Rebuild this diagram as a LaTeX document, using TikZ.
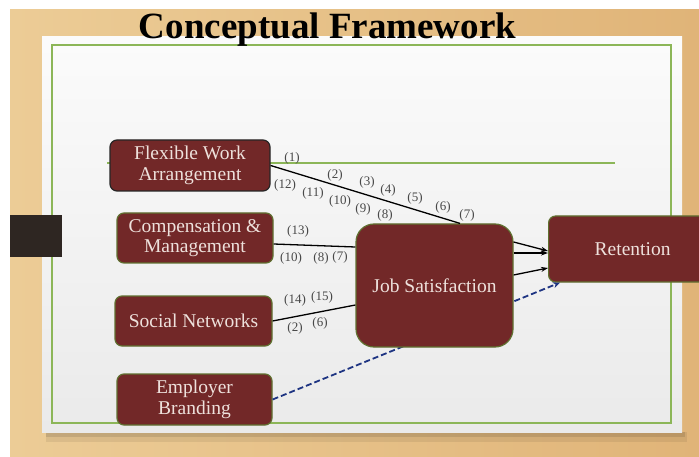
\documentclass[tikz,border=0pt]{standalone}
\usepackage{fontspec}
\setmainfont{Liberation Serif}
\usetikzlibrary{arrows.meta}
\definecolor{wood}{RGB}{224,180,120}
\definecolor{woodlt}{RGB}{236,204,150}
\definecolor{paper}{RGB}{234,234,234}
\definecolor{frame}{RGB}{140,182,88}
\definecolor{boxred}{RGB}{114,40,40}
\definecolor{boxtxt}{RGB}{238,225,220}
\definecolor{boxline}{RGB}{96,112,48}
\definecolor{lblgray}{RGB}{72,72,72}
\definecolor{navy}{RGB}{30,52,130}
\definecolor{tab}{RGB}{46,38,34}

\begin{document}
\begin{tikzpicture}[x=1pt,y=-1pt,
    box/.style={draw=boxline, line width=1.2pt, fill=boxred, text=boxtxt,
      rounded corners=7pt, inner sep=0pt, align=center,
      font=\fontsize{19.5}{20.5}\selectfont},
    lbl/.style={text=lblgray, inner sep=0pt, font=\fontsize{13}{13}\selectfont},
    link/.style={line width=1.3pt, black},
    toret/.style={link, -{Stealth[length=7pt,width=5pt]}}]
    \useasboundingbox (0,0) rectangle (699,457);
    \clip (0,0) rectangle (699,457);
    \fill[white] (0,0) rectangle (699,457);
    \shade[left color=woodlt, right color=wood] (10,10) rectangle (699,457);
    \fill[black, opacity=0.07] (46,432) rectangle (687,442);
    \fill[black, opacity=0.1] (46,432) rectangle (685,437);
    \shade[top color=white!97!gray, bottom color=paper] (42,37) rectangle (682,432);
    \draw[frame, line width=1.3pt] (52,45) rectangle (671,423);
    \fill[tab] (10,215) rectangle (62,257);
    \node[anchor=base, font=\bfseries\fontsize{37}{40}\selectfont] (title) at (327.5,39) {Conceptual Framework};
    \draw[frame, line width=1.2pt] (107,163) -- (615,163);
    \node[box, draw=black!85, minimum width=160pt, minimum height=51pt] (flex) at (190,165.5) {Flexible Work\\Arrangement};
    \node[box, minimum width=156pt, minimum height=50pt] (comp) at (195,238) {Compensation \&\\Management};
    \node[box, minimum width=157pt, minimum height=50pt] (social) at (193.5,321) {Social Networks};
    \node[box, minimum width=155pt, minimum height=51pt] (brand) at (194.5,399.5) {Employer\\Branding};
    \node[box, minimum width=168pt, minimum height=66pt, anchor=west] (ret) at (548,249) {Retention};
    \draw[navy, line width=1.8pt, dash pattern=on 6pt off 3pt, -{Stealth[length=7pt,width=6pt]}] (brand.east) -- ([xshift=12pt]ret.south west);
    \node[box, rounded corners=18pt, minimum width=157pt, minimum height=123pt] (job) at (434.5,285.5) {Job Satisfaction};
    \draw[link] (flex.east) -- ([xshift=25.5pt]job.north);
    \draw[link] ([yshift=-6pt]comp.east) -- ([yshift=38.5pt]job.west);
    \draw[link] (social.east) -- ([yshift=-19.5pt]job.west);
    \draw[toret] ([yshift=43.5pt]job.east) -- ([yshift=-2pt]ret.west);
    \draw[toret] ([yshift=32.5pt]job.east) -- ([yshift=-4pt]ret.west);
    \draw[toret] ([yshift=10.5pt]job.east) -- ([yshift=-19pt]ret.west);
    \foreach \t/\x/\y [count=\i] in {1/292/158, 2/335/175, 3/367/182, 4/388/190, 5/415/198,
        6/443/207, 7/467/215, 12/285/185, 11/313/193, 10/340/201, 9/363/209, 8/385/215,
        13/298/231, 10/291/258, 8/321/258, 7/340/257, 14/295/300, 15/322/297, 2/295/328, 6/320/323}
      \node[lbl] (lbl\i) at (\x,\y) {(\t)};
\end{tikzpicture}
\end{document}
